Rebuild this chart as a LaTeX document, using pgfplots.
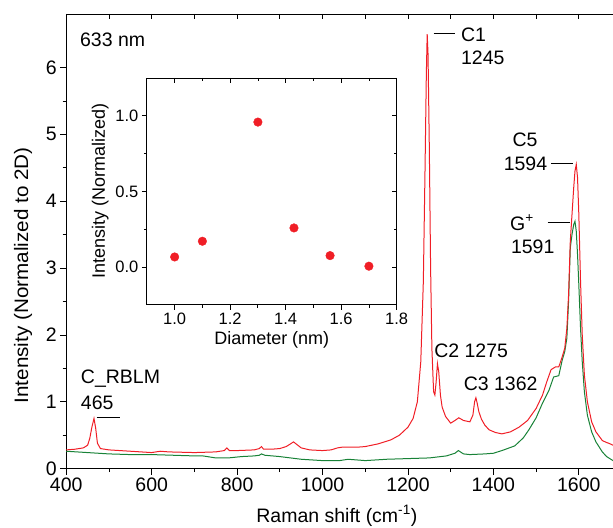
\documentclass[border=0pt]{standalone}
\usepackage{fontspec}
\setmainfont{Liberation Sans}
\usepackage{pgfplots}
\pgfplotsset{compat=1.18}
\definecolor{cred}{RGB}{240,30,38}
\definecolor{cgreen}{RGB}{24,130,55}
\pgfplotstableread{
x y
400 0.28
420 0.29
440 0.31
450 0.35
455 0.45
460 0.62
465 0.75
469 0.60
473 0.38
480 0.30
500 0.28
550 0.26
600 0.24
620 0.26
640 0.25
700 0.24
750 0.25
770 0.27
776 0.31
782 0.27
800 0.27
840 0.28
852 0.30
857 0.33
862 0.29
880 0.29
900 0.30
915 0.33
925 0.37
932 0.40
940 0.36
950 0.31
970 0.28
1000 0.27
1020 0.28
1035 0.31
1045 0.32
1060 0.32
1080 0.32
1100 0.33
1130 0.37
1160 0.43
1180 0.50
1200 0.62
1212 0.75
1222 1.00
1230 1.60
1236 2.80
1240 4.50
1243 5.90
1245 6.50
1247 6.20
1250 4.80
1253 3.00
1256 1.80
1260 1.15
1263 1.10
1266 1.30
1269 1.57
1272 1.45
1276 1.10
1280 0.92
1288 0.78
1300 0.68
1310 0.72
1319 0.76
1330 0.72
1345 0.70
1352 0.80
1356 1.00
1359 1.06
1362 0.98
1366 0.85
1372 0.74
1380 0.65
1390 0.58
1405 0.54
1420 0.52
1440 0.55
1460 0.62
1480 0.72
1500 0.90
1515 1.10
1525 1.30
1535 1.48
1545 1.52
1553 1.52
1560 1.65
1567 1.80
1572 2.10
1576 2.60
1580 3.40
1584 3.80
1588 4.20
1591 4.45
1594 4.55
1597 4.35
1600 3.80
1604 2.80
1608 2.00
1613 1.40
1620 1.00
1630 0.70
1640 0.55
1655 0.42
1665 0.39
1670 0.38
1680 0.35
}\redtab
\pgfplotstableread{
x y
400 0.26
450 0.24
500 0.22
550 0.21
600 0.21
650 0.20
700 0.19
720 0.19
750 0.16
780 0.16
810 0.18
840 0.19
852 0.20
857 0.22
865 0.20
900 0.18
950 0.14
1000 0.12
1040 0.12
1060 0.14
1080 0.13
1100 0.12
1150 0.14
1200 0.15
1250 0.16
1290 0.19
1310 0.23
1318 0.27
1330 0.22
1345 0.21
1380 0.22
1400 0.23
1420 0.27
1450 0.34
1470 0.46
1483 0.58
1500 0.76
1515 0.98
1530 1.17
1541 1.37
1553 1.39
1561 1.62
1567 1.75
1572 1.95
1576 2.50
1580 3.30
1584 3.50
1588 3.65
1591 3.70
1594 3.55
1597 3.20
1600 2.75
1604 2.10
1608 1.60
1613 1.15
1620 0.80
1630 0.55
1640 0.40
1655 0.25
1665 0.18
1680 0.12
}\greentab
\pgfplotstableread{
x y
1.00 0.066
1.10 0.170
1.30 0.958
1.43 0.258
1.56 0.075
1.70 0.005
}\insettab
\begin{document}
\begin{tikzpicture}
\pgfplotsset{
  every axis/.append style={font=\fontsize{19.5}{23}\selectfont},
  /pgf/number format/assume math mode=true,
  /pgf/number format/1000 sep={},
}
% main axis
\begin{axis}[name=main, at={(0pt,0pt)}, anchor=south west, scale only axis,
  width=547.2pt, height=455pt,
  xmin=400, xmax=1680, ymin=0, ymax=6.8,
  axis x line*=bottom, axis y line*=left,
  axis line style={-, line width=0.8pt},
  xtick pos=bottom, ytick pos=left,
  tick align=outside,
  xtick={400,600,...,1600}, minor x tick num=1,
  ytick={0,1,...,6}, minor y tick num=1,
  major tick length=6pt, minor tick length=3.5pt,
  tick style={line width=0.8pt, black},
  xlabel={Raman shift (cm\textsuperscript{-1})},
  ylabel={\scalebox{1.06}[1]{Intensity (Normalized to 2D)}},
  xlabel style={at={(axis description cs:0.495,-0.1033)}, anchor=center},
  ylabel style={at={(axis description cs:-0.0791,0.425)}, anchor=center},
  clip=true,
]
\addplot[cgreen, line width=1pt] table[x=x,y=y] {\greentab};
\addplot[cred, line width=1pt] table[x=x,y=y] {\redtab};
\node[anchor=west, inner sep=0pt] at (axis cs:432,6.41) {633 nm};
% C1
\draw[black, line width=0.8pt] (axis cs:1260,6.51) -- (axis cs:1311,6.51);
\node[anchor=west, inner sep=0pt] at (axis cs:1324,6.49) {C1};
\node[anchor=west, inner sep=0pt] at (axis cs:1324,6.14) {1245};
% C5
\node[anchor=center, inner sep=0pt] at (axis cs:1474,4.92) {C5};
\node[anchor=center, inner sep=0pt] at (axis cs:1475,4.56) {1594};
\draw[black, line width=0.8pt] (axis cs:1536,4.56) -- (axis cs:1587,4.56);
% G+
\node[anchor=center, inner sep=0pt] at (axis cs:1467,3.68) {G\textsuperscript{+}};
\node[anchor=center, inner sep=0pt] at (axis cs:1492,3.32) {1591};
\draw[black, line width=0.8pt] (axis cs:1527,3.69) -- (axis cs:1580,3.69);
% C2, C3
\node[anchor=center, inner sep=0pt] at (axis cs:1348,1.764) {C2 1275};
\node[anchor=center, inner sep=0pt] at (axis cs:1417,1.27) {C3 1362};
% RBLM
\node[anchor=west, inner sep=0pt] at (axis cs:434,1.345) {C\_RBLM};
\node[anchor=west, inner sep=0pt] at (axis cs:434,0.99) {465};
\draw[black, line width=0.8pt] (axis cs:471,0.767) -- (axis cs:526,0.767);
\end{axis}
% top ticks (inward)
\begin{axis}[at={(0pt,0pt)}, anchor=south west, scale only axis,
  width=547.2pt, height=455pt,
  xmin=400, xmax=1680, ymin=0, ymax=6.8,
  axis x line*=top, axis y line=none,
  axis line style={-, line width=0.8pt},
  xtick pos=top, tick align=inside,
  xtick={400,500,...,1600}, xticklabels={},
  major tick length=5pt,
  tick style={line width=0.8pt, black},
]
\end{axis}
% inset
\begin{axis}[at={(80.7pt,164pt)}, anchor=south west, scale only axis,
  width=250pt, height=227pt,
  xmin=0.9, xmax=1.8, ymin=-0.25, ymax=1.25,
  xtick={1.0,1.2,1.4,1.6,1.8}, minor x tick num=1,
  ytick={0,0.5,1.0}, minor y tick num=1,
  xtick pos=bottom, ytick pos=left, tick align=outside,
  major tick length=5pt, minor tick length=3pt,
  tick style={line width=0.8pt, black},
  axis line style={line width=0.8pt},
  tick label style={font=\fontsize{16.5}{19}\selectfont},
  xticklabel style={/pgf/number format/.cd, fixed, fixed zerofill, precision=1},
  yticklabel style={/pgf/number format/.cd, fixed, fixed zerofill, precision=1},
  label style={font=\fontsize{18}{21}\selectfont},
  xlabel={Diameter (nm)},
  ylabel={Intensity (Normalized)},
]
\addplot[only marks, mark=*, mark size=4.3pt, mark options={fill=cred, draw=cred}] table[x=x,y=y] {\insettab};
\end{axis}
\begin{axis}[at={(80.7pt,164pt)}, anchor=south west, scale only axis,
  width=250pt, height=227pt,
  xmin=0.9, xmax=1.8, ymin=-0.25, ymax=1.25,
  xtick={1.0,1.2,1.4,1.6,1.8}, minor x tick num=1,
  ytick={0,0.5,1.0}, minor y tick num=1,
  xtick pos=top, ytick pos=right, tick align=inside,
  xticklabels={}, yticklabels={},
  major tick length=5pt, minor tick length=3pt,
  tick style={line width=0.8pt, black},
  axis line style={line width=0.8pt},
]
\end{axis}
\pgfresetboundingbox
\path (-66.3pt,-59pt) rectangle (547.2pt,469pt);
\end{tikzpicture}
\end{document}
